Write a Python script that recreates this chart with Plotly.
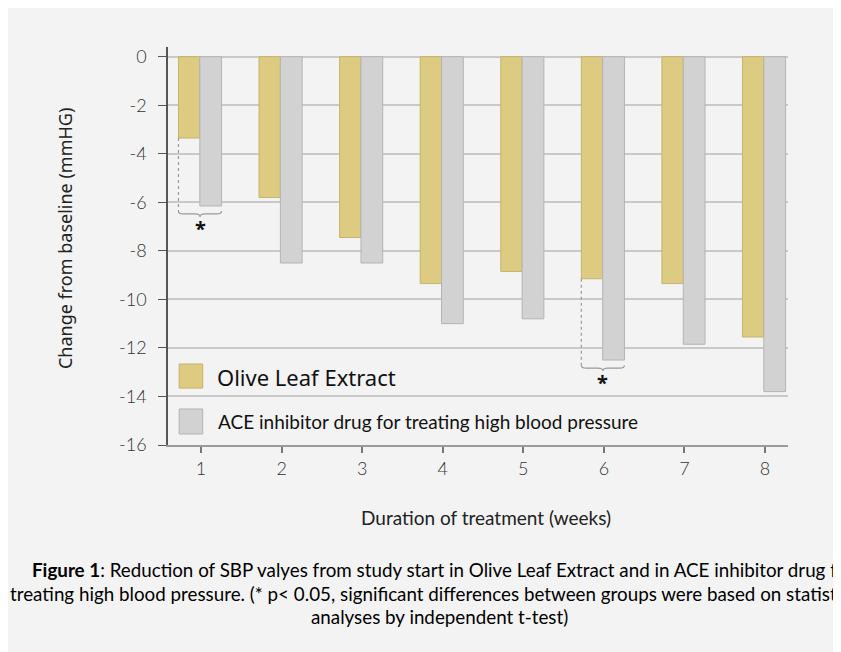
import plotly.graph_objects as go

# ---- data ----
weeks = [1, 2, 3, 4, 5, 6, 7, 8]
olive_leaf = [-3.35, -5.8, -7.45, -9.35, -8.85, -9.15, -9.35, -11.55]
ace_inhibitor = [-6.15, -8.5, -8.5, -11.0, -10.8, -12.5, -11.85, -13.8]
significant_weeks = [1, 6]
y_tick_values = [0, -2, -4, -6, -8, -10, -12, -14, -16]
y_tick_labels = ["0", "-2", "-4", "-6", "-8", "-10", "-12", "-14", "-16"]
series_names = ["Olive Leaf Extract", "ACE inhibitor drug for treating high blood pressure"]

# ---- styling ----
BG = "#f3f3f3"
OLIVE = "#dccb80"
OLIVE_EDGE = "#c4b46c"
GREY = "#d2d2d2"
GREY_EDGE = "#b4b4b4"
NARROW = "Lato, Roboto, Liberation Sans"
REGULAR = "Noto Sans, Open Sans"

OFF_A, W_A = -0.28, 0.265
OFF_B, W_B = -0.015, 0.27

fig = go.Figure()
fig.add_trace(go.Bar(x=weeks, y=olive_leaf, name=series_names[0], width=W_A, offset=OFF_A,
                     marker=dict(color=OLIVE, line=dict(color=OLIVE_EDGE, width=1)),
                     showlegend=False))
fig.add_trace(go.Bar(x=weeks, y=ace_inhibitor, name=series_names[1], width=W_B, offset=OFF_B,
                     marker=dict(color=GREY, line=dict(color=GREY_EDGE, width=1)),
                     showlegend=False))

shapes = []
annotations = []

# significance brackets, derived from the data
for wk in significant_weeks:
    i = weeks.index(wk)
    a, b = olive_leaf[i], ace_inhibitor[i]
    x0 = wk + OFF_A
    x1 = wk + OFF_B + W_B
    xm = (x0 + x1) / 2
    yb = min(a, b) - 0.33
    h = 0.12
    dx = 0.06
    shapes.append(dict(type="line", xref="x", yref="y", x0=x0, x1=x0, y0=a, y1=yb + h,
                       line=dict(color="#9a9a9a", width=1.2, dash="dot")))
    path = (f"M {x0},{yb + h} Q {x0},{yb} {x0 + dx},{yb} L {xm - dx},{yb} "
            f"Q {xm},{yb} {xm},{yb - h} Q {xm},{yb} {xm + dx},{yb} L {x1 - dx},{yb} "
            f"Q {x1},{yb} {x1},{yb + h}")
    shapes.append(dict(type="path", xref="x", yref="y", path=path,
                       line=dict(color="#9a9a9a", width=1.2)))
    annotations.append(dict(x=xm, y=yb - 0.6, xref="x", yref="y", text="<b>*</b>",
                            showarrow=False, font=dict(family=REGULAR, size=20, color="#111")))

# manual legend inside plot
shapes.append(dict(type="rect", xref="paper", yref="paper", x0=0.018, x1=0.056, y0=0.143, y1=0.2035,
                   fillcolor=OLIVE, line=dict(color=OLIVE_EDGE, width=1), layer="above"))
shapes.append(dict(type="rect", xref="paper", yref="paper", x0=0.018, x1=0.056, y0=0.0276, y1=0.0905,
                   fillcolor=GREY, line=dict(color=GREY_EDGE, width=1), layer="above"))
annotations.append(dict(x=0.076, y=0.171, xref="paper", yref="paper", xanchor="left", yanchor="middle",
                        text=series_names[0], showarrow=False,
                        font=dict(family=REGULAR, size=22, color="#111")))
annotations.append(dict(x=0.078, y=0.058, xref="paper", yref="paper", xanchor="left", yanchor="middle",
                        text=series_names[1], showarrow=False,
                        font=dict(family=NARROW, size=19, color="#111")))

# axis titles
annotations.append(dict(x=0.513, y=-0.181, xref="paper", yref="paper", xanchor="center", yanchor="middle",
                        text="Duration of treatment (weeks)", showarrow=False,
                        font=dict(family=NARROW, size=19, color="#222")))
annotations.append(dict(x=-0.166, y=0.5176, xref="paper", yref="paper", xanchor="center", yanchor="middle",
                        text="Change from baseline (mmHG)", textangle=-90, showarrow=False,
                        font=dict(family=REGULAR, size=18, color="#222")))

# caption
CAP = 18.8
annotations.append(dict(x=-0.2226, y=-0.314, xref="paper", yref="paper", xanchor="left", yanchor="middle",
                        text="<b>Figure 1</b>: Reduction of SBP valyes from study start in Olive Leaf Extract "
                             "and in ACE inhibitor drug for",
                        showarrow=False, font=dict(family=NARROW, size=CAP, color="#000")))
annotations.append(dict(x=-0.258, y=-0.374, xref="paper", yref="paper", xanchor="left", yanchor="middle",
                        text="treating high blood pressure. (* p< 0.05, significant differences between groups "
                             "were based on statistical",
                        showarrow=False, font=dict(family=NARROW, size=CAP, color="#000")))
annotations.append(dict(x=0.4387, y=-0.432, xref="paper", yref="paper", xanchor="center", yanchor="middle",
                        text="analyses by independent t-test)",
                        showarrow=False, font=dict(family=NARROW, size=CAP, color="#000")))

fig.update_layout(
    width=841, height=652,
    paper_bgcolor=BG, plot_bgcolor=BG,
    margin=dict(l=160, r=61, t=39, b=215),
    barmode="overlay",
    shapes=shapes, annotations=annotations,
    showlegend=False,
)
fig.update_xaxes(range=[0.59, 8.285], tickmode="array", tickvals=weeks,
                 ticktext=[str(w) for w in weeks],
                 showgrid=False, zeroline=False, showline=True, linecolor="#9a9a9a", linewidth=2,
                 ticks="outside", ticklen=6, tickcolor="#777", tickwidth=1.5,
                 tickfont=dict(family=NARROW, size=18, color="#333", weight=300))
fig.update_yaxes(range=[-16, 0.4], tickmode="array", tickvals=y_tick_values, ticktext=y_tick_labels,
                 showgrid=True, gridcolor="#c9c9c9", gridwidth=1.5, zeroline=False,
                 showline=True, linecolor="#555", linewidth=1.5,
                 ticks="outside", ticklen=8, tickcolor="#555", tickwidth=1.2,
                 ticklabelstandoff=8,
                 tickfont=dict(family=NARROW, size=18, color="#333", weight=300))

fig.write_html("out.html")
